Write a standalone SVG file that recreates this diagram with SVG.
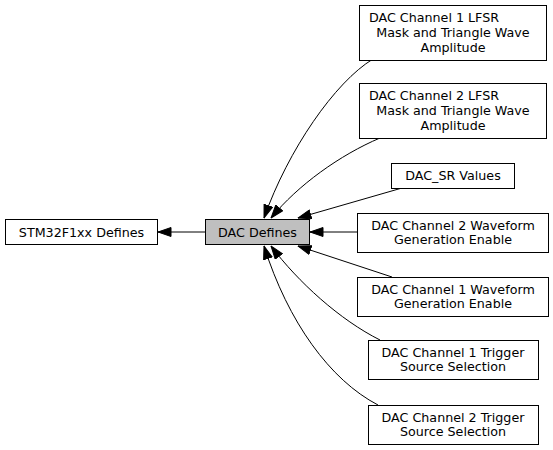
<svg xmlns="http://www.w3.org/2000/svg" width="553" height="450" viewBox="0 0 553 450">
<style>
.box{fill:#fff;stroke:#000;stroke-width:1}
.cur{fill:#bfbfbf;stroke:#000;stroke-width:1}
text{font-family:"DejaVu Sans",sans-serif;font-size:12.7px;text-anchor:middle;fill:#000}
.edge{fill:none;stroke:#000;stroke-width:1}
</style>
<defs>
<marker id="ah" markerUnits="userSpaceOnUse" markerWidth="14" markerHeight="10" viewBox="0 0 14 10" refX="13.5" refY="5" orient="auto">
<path d="M0.5,0.5 L13.5,5 L0.5,9.5 z" fill="#000" stroke="#000" stroke-width="1"/>
</marker>
</defs>
<g id="edges">
<path class="edge" d="M205,232 L158,232" marker-end="url(#ah)"/>
<path class="edge" d="M373,59 C335,82 288,150 264,218" marker-end="url(#ah)"/>
<path class="edge" d="M380,138 C340,155 298,185 271,218" marker-end="url(#ah)"/>
<path class="edge" d="M402,188 L298,218" marker-end="url(#ah)"/>
<path class="edge" d="M357,232 L310,232" marker-end="url(#ah)"/>
<path class="edge" d="M392,277 L298,246" marker-end="url(#ah)"/>
<path class="edge" d="M380,340 C340,320 298,282 271,246" marker-end="url(#ah)"/>
<path class="edge" d="M378,405 C330,380 288,322 264,246" marker-end="url(#ah)"/>
</g>
<g id="stm32">
<rect class="box" x="5.5" y="219.5" width="152" height="25"/>
<text x="81.5" y="236.5">STM32F1xx Defines</text>
</g>
<g id="dac_defines">
<rect class="cur" x="205.5" y="219.5" width="104" height="25"/>
<text x="257.5" y="236.5">DAC Defines</text>
</g>
<g id="ch1_lfsr">
<rect class="box" x="359.5" y="5.5" width="187" height="55"/>
<text x="434" y="21.5">DAC Channel 1 LFSR</text>
<text x="453" y="36.5">Mask and Triangle Wave</text>
<text x="453" y="51.5">Amplitude</text>
</g>
<g id="ch2_lfsr">
<rect class="box" x="359.5" y="83.5" width="187" height="55"/>
<text x="434" y="99.5">DAC Channel 2 LFSR</text>
<text x="453" y="114.5">Mask and Triangle Wave</text>
<text x="453" y="129.5">Amplitude</text>
</g>
<g id="dac_sr">
<rect class="box" x="391.5" y="163.5" width="123" height="25"/>
<text x="453" y="180">DAC_SR Values</text>
</g>
<g id="ch2_wave">
<rect class="box" x="357.5" y="213.5" width="191" height="39"/>
<text x="453" y="229.5">DAC Channel 2 Waveform</text>
<text x="453" y="243.5">Generation Enable</text>
</g>
<g id="ch1_wave">
<rect class="box" x="357.5" y="277.5" width="191" height="39"/>
<text x="453" y="293.5">DAC Channel 1 Waveform</text>
<text x="453" y="307.5">Generation Enable</text>
</g>
<g id="ch1_trig">
<rect class="box" x="368.5" y="340.5" width="170" height="39"/>
<text x="453" y="357">DAC Channel 1 Trigger</text>
<text x="453" y="371">Source Selection</text>
</g>
<g id="ch2_trig">
<rect class="box" x="368.5" y="405.5" width="170" height="39"/>
<text x="453" y="422">DAC Channel 2 Trigger</text>
<text x="453" y="436">Source Selection</text>
</g>
</svg>
